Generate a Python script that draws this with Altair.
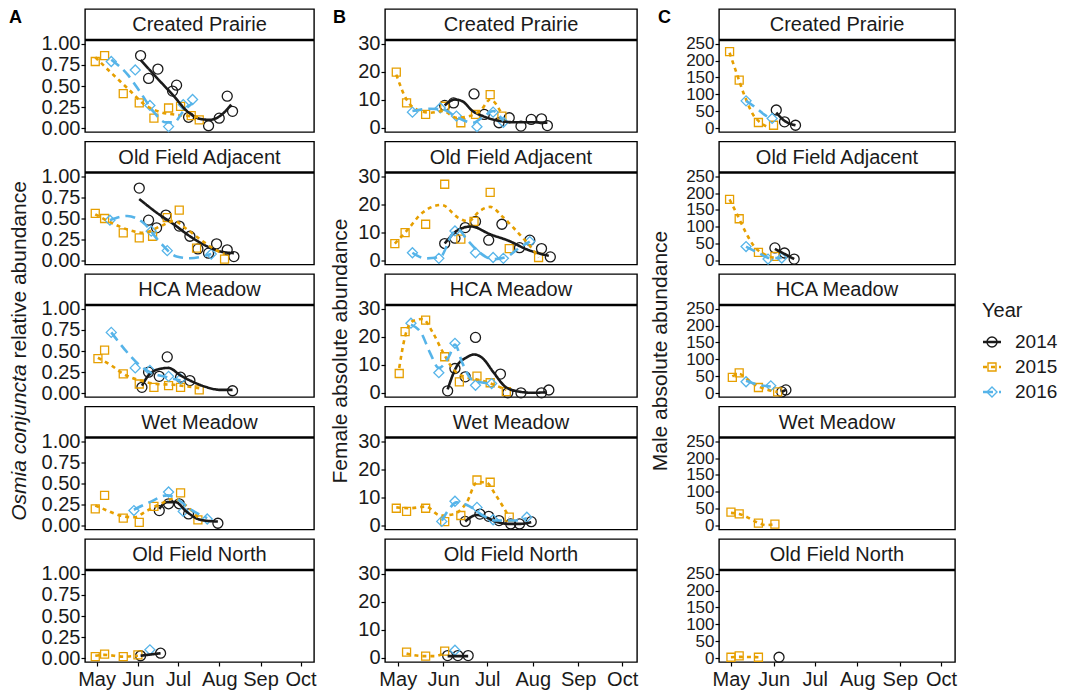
import altair as alt
import pandas as pd

# ---------------- categories / styling lists ----------------
sites = ["Created Prairie", "Old Field Adjacent", "HCA Meadow", "Wet Meadow", "Old Field North"]
codes = ["CP", "OFA", "HCA", "WM", "OFN"]
years = ["2014", "2015", "2016"]
year_colors = ["#1a1a1a", "#E69F00", "#56B4E9"]
year_shapes = ["circle", "M-0.8,-0.8L0.8,-0.8L0.8,0.8L-0.8,0.8Z", "diamond"]
year_dashes = [[1, 0], [4, 4], [10, 6]]
legend_title = "Year"
month_names = ["May", "Jun", "Jul", "Aug", "Sep", "Oct"]
month_doy = [121, 152, 182, 213, 244, 274]
x_domain = [112.3, 284.1]

panel_letters = ["A", "B", "C"]
y_ticks = [[0, 0.25, 0.5, 0.75, 1.0], [0, 10, 20, 30], [0, 50, 100, 150, 200, 250]]
y_formats = [".2f", "d", "d"]
y_domains = [[-0.044, 1.044], [-1.5, 31.4], [-11, 260.6]]
y_title_plain = ["", "Female absolute abundance", "Male absolute abundance"]
title_italic = "Osmia conjuncta"
title_rest = "relative abundance"

# ---------------- data: (site, day of year, value) ----------------
# Column A: relative abundance
A_2014_pts = [("CP", 154, 0.86), ("CP", 160, 0.59), ("CP", 167, 0.70), ("CP", 178, 0.44), ("CP", 181, 0.51),
              ("CP", 190, 0.13), ("CP", 205, 0.03), ("CP", 213, 0.12), ("CP", 219, 0.38), ("CP", 223, 0.20),
              ("OFA", 153, 0.86), ("OFA", 160, 0.48), ("OFA", 166, 0.39), ("OFA", 173, 0.54), ("OFA", 183, 0.41),
              ("OFA", 191, 0.29), ("OFA", 197, 0.14), ("OFA", 205, 0.09), ("OFA", 211, 0.20), ("OFA", 219, 0.13),
              ("OFA", 224, 0.05),
              ("HCA", 155, 0.07), ("HCA", 160, 0.25), ("HCA", 168, 0.20), ("HCA", 174, 0.43), ("HCA", 184, 0.19),
              ("HCA", 191, 0.15), ("HCA", 223, 0.03),
              ("WM", 168, 0.18), ("WM", 175, 0.26), ("WM", 183, 0.26), ("WM", 190, 0.14), ("WM", 212, 0.03),
              ("OFN", 154, 0.03), ("OFN", 169, 0.06)]
A_2014_curve = [("CP", 154, 0.81), ("CP", 166, 0.60), ("CP", 179, 0.38), ("CP", 189, 0.20), ("CP", 199, 0.11),
                ("CP", 206, 0.10), ("CP", 214, 0.15), ("CP", 222, 0.28),
                ("OFA", 153, 0.73), ("OFA", 166, 0.57), ("OFA", 179, 0.43), ("OFA", 191, 0.29), ("OFA", 204, 0.17),
                ("OFA", 214, 0.11), ("OFA", 224, 0.09),
                ("HCA", 155, 0.09), ("HCA", 161, 0.23), ("HCA", 169, 0.29), ("HCA", 175, 0.30), ("HCA", 184, 0.21),
                ("HCA", 194, 0.13), ("HCA", 204, 0.07), ("HCA", 214, 0.04), ("HCA", 223, 0.04),
                ("WM", 168, 0.20), ("WM", 174, 0.28), ("WM", 180, 0.28), ("WM", 189, 0.16), ("WM", 199, 0.07),
                ("WM", 212, 0.05),
                ("OFN", 154, 0.03), ("OFN", 169, 0.06)]
A_2015_pts = [("CP", 120, 0.79), ("CP", 127, 0.86), ("CP", 141, 0.41), ("CP", 153, 0.30), ("CP", 164, 0.12),
              ("CP", 175, 0.24), ("CP", 184, 0.26), ("CP", 192, 0.15), ("CP", 198, 0.10),
              ("OFA", 120, 0.56), ("OFA", 127, 0.50), ("OFA", 141, 0.33), ("OFA", 153, 0.27), ("OFA", 163, 0.29),
              ("OFA", 174, 0.51), ("OFA", 183, 0.60), ("OFA", 196, 0.15), ("OFA", 217, 0.02),
              ("HCA", 122, 0.41), ("HCA", 127, 0.51), ("HCA", 141, 0.23), ("HCA", 153, 0.11), ("HCA", 164, 0.07),
              ("HCA", 175, 0.09), ("HCA", 184, 0.07), ("HCA", 198, 0.04),
              ("WM", 120, 0.20), ("WM", 127, 0.36), ("WM", 141, 0.09), ("WM", 153, 0.04), ("WM", 164, 0.23),
              ("WM", 184, 0.39), ("WM", 197, 0.07),
              ("OFN", 120, 0.02), ("OFN", 127, 0.05), ("OFN", 141, 0.02), ("OFN", 152, 0.04)]
A_2015_curve = [("CP", 120, 0.84), ("CP", 133, 0.64), ("CP", 145, 0.46), ("CP", 157, 0.28), ("CP", 169, 0.19),
                ("CP", 181, 0.16), ("CP", 193, 0.14), ("CP", 198, 0.13),
                ("OFA", 120, 0.55), ("OFA", 132, 0.45), ("OFA", 144, 0.37), ("OFA", 156, 0.33), ("OFA", 169, 0.41),
                ("OFA", 179, 0.47), ("OFA", 189, 0.37), ("OFA", 199, 0.25), ("OFA", 209, 0.14), ("OFA", 217, 0.08),
                ("HCA", 122, 0.42), ("HCA", 132, 0.33), ("HCA", 141, 0.23), ("HCA", 154, 0.15), ("HCA", 166, 0.11),
                ("HCA", 179, 0.10), ("HCA", 189, 0.08), ("HCA", 198, 0.06),
                ("WM", 120, 0.24), ("WM", 129, 0.18), ("WM", 139, 0.12), ("WM", 149, 0.10), ("WM", 159, 0.18),
                ("WM", 169, 0.26), ("WM", 179, 0.32), ("WM", 188, 0.24), ("WM", 197, 0.10),
                ("OFN", 120, 0.03), ("OFN", 127, 0.04), ("OFN", 141, 0.02), ("OFN", 152, 0.03)]
A_2016_pts = [("CP", 132, 0.79), ("CP", 150, 0.69), ("CP", 161, 0.27), ("CP", 175, 0.02), ("CP", 186, 0.28),
              ("CP", 193, 0.34),
              ("OFA", 131, 0.48), ("OFA", 162, 0.35), ("OFA", 174, 0.12), ("OFA", 207, 0.08),
              ("HCA", 132, 0.72), ("HCA", 150, 0.30), ("HCA", 161, 0.27), ("HCA", 175, 0.20), ("HCA", 184, 0.17),
              ("WM", 149, 0.18), ("WM", 175, 0.40), ("WM", 186, 0.17), ("WM", 204, 0.08),
              ("OFN", 161, 0.10)]
A_2016_curve = [("CP", 132, 0.81), ("CP", 144, 0.64), ("CP", 154, 0.42), ("CP", 164, 0.19), ("CP", 173, 0.07),
                ("CP", 179, 0.07), ("CP", 186, 0.20), ("CP", 193, 0.30),
                ("OFA", 131, 0.48), ("OFA", 144, 0.53), ("OFA", 156, 0.45), ("OFA", 169, 0.21), ("OFA", 181, 0.05),
                ("OFA", 191, 0.03), ("OFA", 207, 0.08),
                ("HCA", 132, 0.72), ("HCA", 142, 0.52), ("HCA", 152, 0.35), ("HCA", 161, 0.25), ("HCA", 174, 0.19),
                ("HCA", 184, 0.15),
                ("WM", 149, 0.19), ("WM", 161, 0.28), ("WM", 174, 0.36), ("WM", 181, 0.32), ("WM", 191, 0.20),
                ("WM", 204, 0.09)]

# Column B: female absolute abundance
B_2014_pts = [("CP", 153, 8.0), ("CP", 159, 8.9), ("CP", 173, 12.1), ("CP", 180, 4.8), ("CP", 190, 1.8),
              ("CP", 197, 3.6), ("CP", 205, 0.6), ("CP", 212, 3.0), ("CP", 219, 3.2), ("CP", 223, 0.8),
              ("OFA", 153, 6.0), ("OFA", 160, 7.9), ("OFA", 167, 11.7), ("OFA", 174, 13.9), ("OFA", 183, 7.2),
              ("OFA", 192, 12.9), ("OFA", 204, 4.5), ("OFA", 211, 7.2), ("OFA", 219, 4.2), ("OFA", 225, 1.2),
              ("HCA", 155, 0.7), ("HCA", 160, 8.7), ("HCA", 167, 5.7), ("HCA", 174, 19.8), ("HCA", 191, 6.7),
              ("HCA", 196, 0.0), ("HCA", 205, 0.0), ("HCA", 219, 0.0), ("HCA", 224, 1.0),
              ("WM", 167, 1.4), ("WM", 177, 4.0), ("WM", 183, 3.2), ("WM", 190, 1.7), ("WM", 198, 0.5),
              ("WM", 204, 0.5), ("WM", 212, 1.3),
              ("OFN", 155, 0.8), ("OFN", 162, 0.8), ("OFN", 169, 0.8)]
B_2014_curve = [("CP", 153, 8.0), ("CP", 160, 10.1), ("CP", 165, 9.5), ("CP", 172, 6.0), ("CP", 179, 4.2),
                ("CP", 188, 2.7), ("CP", 200, 2.0), ("CP", 211, 2.0), ("CP", 223, 1.8),
                ("OFA", 153, 6.0), ("OFA", 163, 11.1), ("OFA", 171, 12.1), ("OFA", 184, 9.3), ("OFA", 197, 6.9),
                ("OFA", 209, 3.9), ("OFA", 224, 1.6),
                ("HCA", 155, 1.2), ("HCA", 161, 9.3), ("HCA", 168, 12.7), ("HCA", 173, 13.7), ("HCA", 179, 12.3),
                ("HCA", 186, 7.5), ("HCA", 195, 1.9), ("HCA", 204, 0.4), ("HCA", 213, 0.0), ("HCA", 222, 0.2),
                ("WM", 167, 1.4), ("WM", 175, 3.7), ("WM", 181, 2.9), ("WM", 188, 1.3), ("WM", 197, 0.5),
                ("WM", 204, 0.5), ("WM", 212, 1.1),
                ("OFN", 155, 0.6), ("OFN", 169, 0.6)]
B_2015_pts = [("CP", 120, 19.9), ("CP", 127, 8.9), ("CP", 140, 4.8), ("CP", 153, 7.7), ("CP", 164, 1.8),
              ("CP", 174, 4.8), ("CP", 184, 11.9), ("CP", 192, 4.2),
              ("OFA", 119, 6.0), ("OFA", 126, 9.9), ("OFA", 140, 12.9), ("OFA", 153, 27.2), ("OFA", 164, 7.6),
              ("OFA", 173, 13.9), ("OFA", 184, 24.3), ("OFA", 197, 4.2), ("OFA", 217, 1.0),
              ("HCA", 122, 6.9), ("HCA", 126, 21.9), ("HCA", 140, 26.0), ("HCA", 153, 12.9), ("HCA", 163, 3.9),
              ("HCA", 175, 6.0), ("HCA", 184, 3.6), ("HCA", 195, 0.4),
              ("WM", 120, 6.1), ("WM", 127, 5.0), ("WM", 140, 6.1), ("WM", 153, 1.3), ("WM", 164, 3.5),
              ("WM", 175, 16.2), ("WM", 184, 15.4), ("WM", 197, 2.9),
              ("OFN", 127, 2.0), ("OFN", 140, 0.6), ("OFN", 153, 2.4)]
B_2015_curve = [("CP", 120, 19.0), ("CP", 127, 10.1), ("CP", 134, 6.5), ("CP", 143, 5.4), ("CP", 152, 6.0),
                ("CP", 161, 3.6), ("CP", 170, 4.2), ("CP", 178, 6.5), ("CP", 184, 10.1), ("CP", 192, 4.8),
                ("OFA", 119, 6.0), ("OFA", 127, 10.5), ("OFA", 138, 17.1), ("OFA", 151, 19.8), ("OFA", 162, 15.3),
                ("OFA", 169, 13.9), ("OFA", 177, 17.7), ("OFA", 184, 19.1), ("OFA", 193, 15.3), ("OFA", 204, 9.3),
                ("OFA", 213, 3.9), ("OFA", 217, 1.0),
                ("HCA", 122, 8.9), ("HCA", 126, 20.2), ("HCA", 131, 25.6), ("HCA", 138, 26.4), ("HCA", 145, 21.4),
                ("HCA", 152, 14.3), ("HCA", 159, 8.3), ("HCA", 165, 6.0), ("HCA", 175, 4.8), ("HCA", 186, 3.0),
                ("HCA", 195, 1.0),
                ("WM", 120, 6.4), ("WM", 129, 6.1), ("WM", 140, 6.7), ("WM", 150, 3.5), ("WM", 159, 4.0),
                ("WM", 168, 8.2), ("WM", 175, 15.4), ("WM", 181, 15.4), ("WM", 188, 10.6), ("WM", 197, 2.9),
                ("OFN", 127, 1.5), ("OFN", 139, 0.6), ("OFN", 146, 0.6), ("OFN", 153, 1.8)]
B_2016_pts = [("CP", 131, 5.6), ("CP", 150, 7.1), ("CP", 161, 4.2), ("CP", 175, 0.4), ("CP", 186, 5.6),
              ("CP", 193, 2.0),
              ("OFA", 131, 2.7), ("OFA", 149, 0.7), ("OFA", 160, 10.5), ("OFA", 174, 2.7), ("OFA", 186, 1.0),
              ("OFA", 193, 0.7), ("OFA", 211, 6.7),
              ("HCA", 130, 24.9), ("HCA", 149, 7.2), ("HCA", 160, 17.7), ("HCA", 174, 2.7), ("HCA", 185, 3.3),
              ("WM", 151, 1.4), ("WM", 160, 8.6), ("WM", 175, 6.4), ("WM", 186, 2.0), ("WM", 209, 2.9),
              ("OFN", 160, 2.7)]
B_2016_curve = [("CP", 131, 6.0), ("CP", 143, 6.8), ("CP", 152, 6.5), ("CP", 161, 3.9), ("CP", 172, 1.8),
                ("CP", 180, 4.2), ("CP", 186, 6.0), ("CP", 193, 2.4),
                ("OFA", 131, 2.7), ("OFA", 140, 0.7), ("OFA", 150, 1.2), ("OFA", 158, 9.3), ("OFA", 162, 11.1),
                ("OFA", 168, 7.5), ("OFA", 177, 2.7), ("OFA", 186, 0.4), ("OFA", 195, 1.2), ("OFA", 204, 4.5),
                ("OFA", 211, 6.7),
                ("HCA", 130, 24.4), ("HCA", 137, 21.4), ("HCA", 143, 14.3), ("HCA", 149, 8.9), ("HCA", 156, 13.1),
                ("HCA", 160, 17.3), ("HCA", 165, 10.7), ("HCA", 172, 4.5), ("HCA", 185, 3.3),
                ("WM", 151, 1.7), ("WM", 156, 5.8), ("WM", 161, 8.2), ("WM", 170, 6.8), ("WM", 179, 3.5),
                ("WM", 188, 1.7), ("WM", 200, 1.7), ("WM", 209, 2.5)]

# Column C: male absolute abundance
C_2014_pts = [("CP", 154, 54), ("CP", 160, 19), ("CP", 168, 9),
              ("OFA", 153, 38), ("OFA", 160, 23), ("OFA", 167, 5),
              ("HCA", 158, 4), ("HCA", 161, 10),
              ("OFN", 156, 3)]
C_2014_curve = [("CP", 154, 46), ("CP", 160, 22), ("CP", 168, 9),
                ("OFA", 153, 35), ("OFA", 161, 18), ("OFA", 167, 5),
                ("HCA", 158, 4), ("HCA", 161, 10)]
C_2015_pts = [("CP", 120, 226), ("CP", 127, 142), ("CP", 141, 17), ("CP", 152, 9),
              ("OFA", 120, 181), ("OFA", 127, 124), ("OFA", 141, 25), ("OFA", 153, 13),
              ("HCA", 122, 47), ("HCA", 127, 60), ("HCA", 141, 17), ("HCA", 155, 4),
              ("WM", 121, 40), ("WM", 127, 35), ("WM", 141, 8), ("WM", 153, 5),
              ("OFN", 121, 3), ("OFN", 127, 7), ("OFN", 141, 3)]
C_2015_curve = [("CP", 120, 223), ("CP", 125, 164), ("CP", 131, 95), ("CP", 137, 41), ("CP", 143, 15),
                ("CP", 149, 2),
                ("OFA", 120, 181), ("OFA", 125, 141), ("OFA", 132, 82), ("OFA", 138, 42), ("OFA", 146, 18),
                ("OFA", 153, 8),
                ("HCA", 122, 50), ("HCA", 127, 57), ("HCA", 134, 37), ("HCA", 141, 20), ("HCA", 148, 10),
                ("HCA", 155, 4),
                ("WM", 121, 38), ("WM", 127, 35), ("WM", 133, 25), ("WM", 140, 10), ("WM", 147, 2), ("WM", 153, 5),
                ("OFN", 121, 3), ("OFN", 127, 4), ("OFN", 141, 3)]
C_2016_pts = [("CP", 132, 81), ("CP", 151, 29),
              ("OFA", 132, 42), ("OFA", 148, 5), ("OFA", 158, 8),
              ("HCA", 132, 34), ("HCA", 150, 22)]
C_2016_curve = [("CP", 132, 81), ("CP", 139, 61), ("CP", 145, 41), ("CP", 151, 27),
                ("OFA", 132, 42), ("OFA", 142, 21), ("OFA", 149, 8), ("OFA", 158, 8),
                ("HCA", 132, 37), ("HCA", 142, 24), ("HCA", 150, 20)]

points_by_col = [[A_2014_pts, A_2015_pts, A_2016_pts],
                 [B_2014_pts, B_2015_pts, B_2016_pts],
                 [C_2014_pts, C_2015_pts, C_2016_pts]]
curves_by_col = [[A_2014_curve, A_2015_curve, A_2016_curve],
                 [B_2014_curve, B_2015_curve, B_2016_curve],
                 [C_2014_curve, C_2015_curve, C_2016_curve]]

# ---------------- layout constants ----------------
FONT = "Liberation Sans"
widths = [229, 252, 236]
PLOT_H = 92
STRIP_H = 31
ROW_GAP = 9.5
letter_x = [-76, -52, -61]
title_x = [-59, -38, -52]
label_sizes = [20, 20, 17]
col_gaps = [12, 10]
LEG_W = 88
leg_rows = [333, 383]


def build_df(lists):
    rows = []
    for yi, lst in enumerate(lists):
        for code, d, v in lst:
            rows.append({"site": sites[codes.index(code)], "year": years[yi], "doy": d, "val": v})
    return pd.DataFrame(rows)


color_scale = alt.Scale(domain=years, range=year_colors)
shape_scale = alt.Scale(domain=years, range=year_shapes)
dash_scale = alt.Scale(domain=years, range=year_dashes)

label_expr = "[" + ",".join("'%s'" % m for m in month_names) + "][indexof([" + \
    ",".join(str(d) for d in month_doy) + "], datum.value)]"


def make_panel(ci, si, pts_df, crv_df):
    site = sites[si]
    lo, hi = y_domains[ci]
    top = hi + (hi - lo) * STRIP_H / PLOT_H
    W = widths[ci]
    H = PLOT_H + STRIP_H
    show_x = si == len(sites) - 1
    xs = alt.Scale(domain=x_domain, nice=False, zero=False)
    ys = alt.Scale(domain=[lo, top], nice=False, zero=False)
    if show_x:
        xaxis = alt.Axis(values=month_doy, labelExpr=label_expr, title=None, grid=False, domain=False,
                         labelFontSize=20, labelOverlap=False, labelPadding=3)
    else:
        xaxis = None
    yaxis = alt.Axis(values=y_ticks[ci], format=y_formats[ci], title=None, grid=False, domain=False,
                     labelFontSize=label_sizes[ci], labelOverlap=False, labelPadding=1)
    p = pts_df[pts_df.site == site]
    c = crv_df[crv_df.site == site]
    layers = []
    layers.append(alt.Chart(p).mark_point(filled=False, size=100, strokeWidth=1.3, opacity=1).encode(
        x=alt.X("doy:Q", scale=xs, axis=xaxis),
        y=alt.Y("val:Q", scale=ys, axis=yaxis),
        color=alt.Color("year:N", scale=color_scale, legend=None),
        shape=alt.Shape("year:N", scale=shape_scale, legend=None),
    ))
    for yi, yr in enumerate(years):
        cy = c[c.year == yr]
        if len(cy):
            layers.append(alt.Chart(cy).mark_line(strokeWidth=2.6, interpolate="monotone",
                                                  strokeDash=year_dashes[yi], color=year_colors[yi]).encode(
                x=alt.X("doy:Q", scale=xs, axis=xaxis),
                y=alt.Y("val:Q", scale=ys, axis=yaxis),
                order=alt.Order("doy:Q"),
            ))
    sdf = pd.DataFrame({"site": [site]})
    layers.append(alt.Chart(sdf).mark_rule(color="black", strokeWidth=2.6).encode(
        x=alt.value(0), x2=alt.value(W), y=alt.value(STRIP_H)))
    layers.append(alt.Chart(sdf).mark_text(fontSize=20, font=FONT, baseline="middle", align="center",
                                           color="#1a1a1a").encode(
        x=alt.value(W / 2), y=alt.value(16), text="site:N"))
    if si == 0:
        ldf = pd.DataFrame({"lab": [panel_letters[ci]]})
        layers.append(alt.Chart(ldf).mark_text(fontSize=18, font=FONT, fontWeight="bold", align="left",
                                               baseline="alphabetic", color="black").encode(
            x=alt.value(letter_x[ci]), y=alt.value(14), text="lab:N"))
    if si == 2:
        center_y = PLOT_H / 2 + STRIP_H
        if ci == 0:
            fs = 21
            w_it = 7.447 * fs
            w_sp = 0.278 * fs
            w_all = 16.174 * fs
            start = center_y + w_all / 2
            tdf1 = pd.DataFrame({"t": [title_italic]})
            tdf2 = pd.DataFrame({"t": [title_rest]})
            layers.append(alt.Chart(tdf1).mark_text(fontSize=fs, font=FONT, fontStyle="italic", angle=270,
                                                    align="left", baseline="alphabetic", color="#1a1a1a").encode(
                x=alt.value(title_x[ci]), y=alt.value(start), text="t:N"))
            layers.append(alt.Chart(tdf2).mark_text(fontSize=fs, font=FONT, angle=270,
                                                    align="left", baseline="alphabetic", color="#1a1a1a").encode(
                x=alt.value(title_x[ci]), y=alt.value(start - w_it - w_sp), text="t:N"))
        else:
            tdf = pd.DataFrame({"t": [y_title_plain[ci]]})
            layers.append(alt.Chart(tdf).mark_text(fontSize=21, font=FONT, angle=270,
                                                   align="center", baseline="alphabetic", color="#1a1a1a").encode(
                x=alt.value(title_x[ci]), y=alt.value(center_y), text="t:N"))
    return alt.layer(*layers).properties(width=W, height=H)


def make_legend():
    total_h = len(sites) * (PLOT_H + STRIP_H) + (len(sites) - 1) * ROW_GAP
    ydf = pd.DataFrame({"year": years})
    yenc = alt.Y("year:N", scale=alt.Scale(type="point", domain=years, range=leg_rows, padding=0), axis=None)
    keys_line = alt.Chart(ydf).mark_rule(strokeWidth=2.4).encode(
        x=alt.value(15), x2=alt.value(33), y=yenc,
        color=alt.Color("year:N", scale=color_scale, legend=None),
        strokeDash=alt.StrokeDash("year:N", scale=dash_scale, legend=None))
    keys_pt = alt.Chart(ydf).mark_point(filled=False, size=100, strokeWidth=1.4, opacity=1).encode(
        x=alt.value(24), y=yenc,
        color=alt.Color("year:N", scale=color_scale, legend=None),
        shape=alt.Shape("year:N", scale=shape_scale, legend=None))
    keys_lab = alt.Chart(ydf).mark_text(fontSize=19, font=FONT, align="left", baseline="middle",
                                        color="#1a1a1a").encode(
        x=alt.value(47), y=yenc, text="year:N")
    tdf = pd.DataFrame({"t": [legend_title]})
    ttl = alt.Chart(tdf).mark_text(fontSize=20, font=FONT, align="left", baseline="middle",
                                   color="#1a1a1a").encode(
        x=alt.value(14), y=alt.value(leg_rows[0] - 31), text="t:N")
    return alt.layer(keys_line, keys_pt, keys_lab, ttl).properties(
        width=LEG_W, height=total_h,
        view=alt.ViewBackground(stroke="transparent", strokeWidth=0, fill="white"))


columns = []
for ci in range(3):
    pts_df = build_df(points_by_col[ci])
    crv_df = build_df(curves_by_col[ci])
    panels = [make_panel(ci, si, pts_df, crv_df) for si in range(len(sites))]
    columns.append(alt.vconcat(*panels, spacing=ROW_GAP, bounds="flush"))

chart = alt.hconcat(
    columns[0],
    alt.hconcat(columns[1], columns[2], make_legend(), spacing=col_gaps[1]),
    spacing=col_gaps[0]
).properties(
    padding={"left": 0, "top": 0, "right": 0, "bottom": 0}
).configure(font=FONT).configure_view(
    stroke="black", strokeWidth=1.4, fill="white"
).configure_axis(
    labelFont=FONT, labelColor="#1a1a1a", tickColor="black", tickSize=4, tickWidth=1.2
)

chart.save("out.html", embed_options={"renderer": "svg", "actions": False})
